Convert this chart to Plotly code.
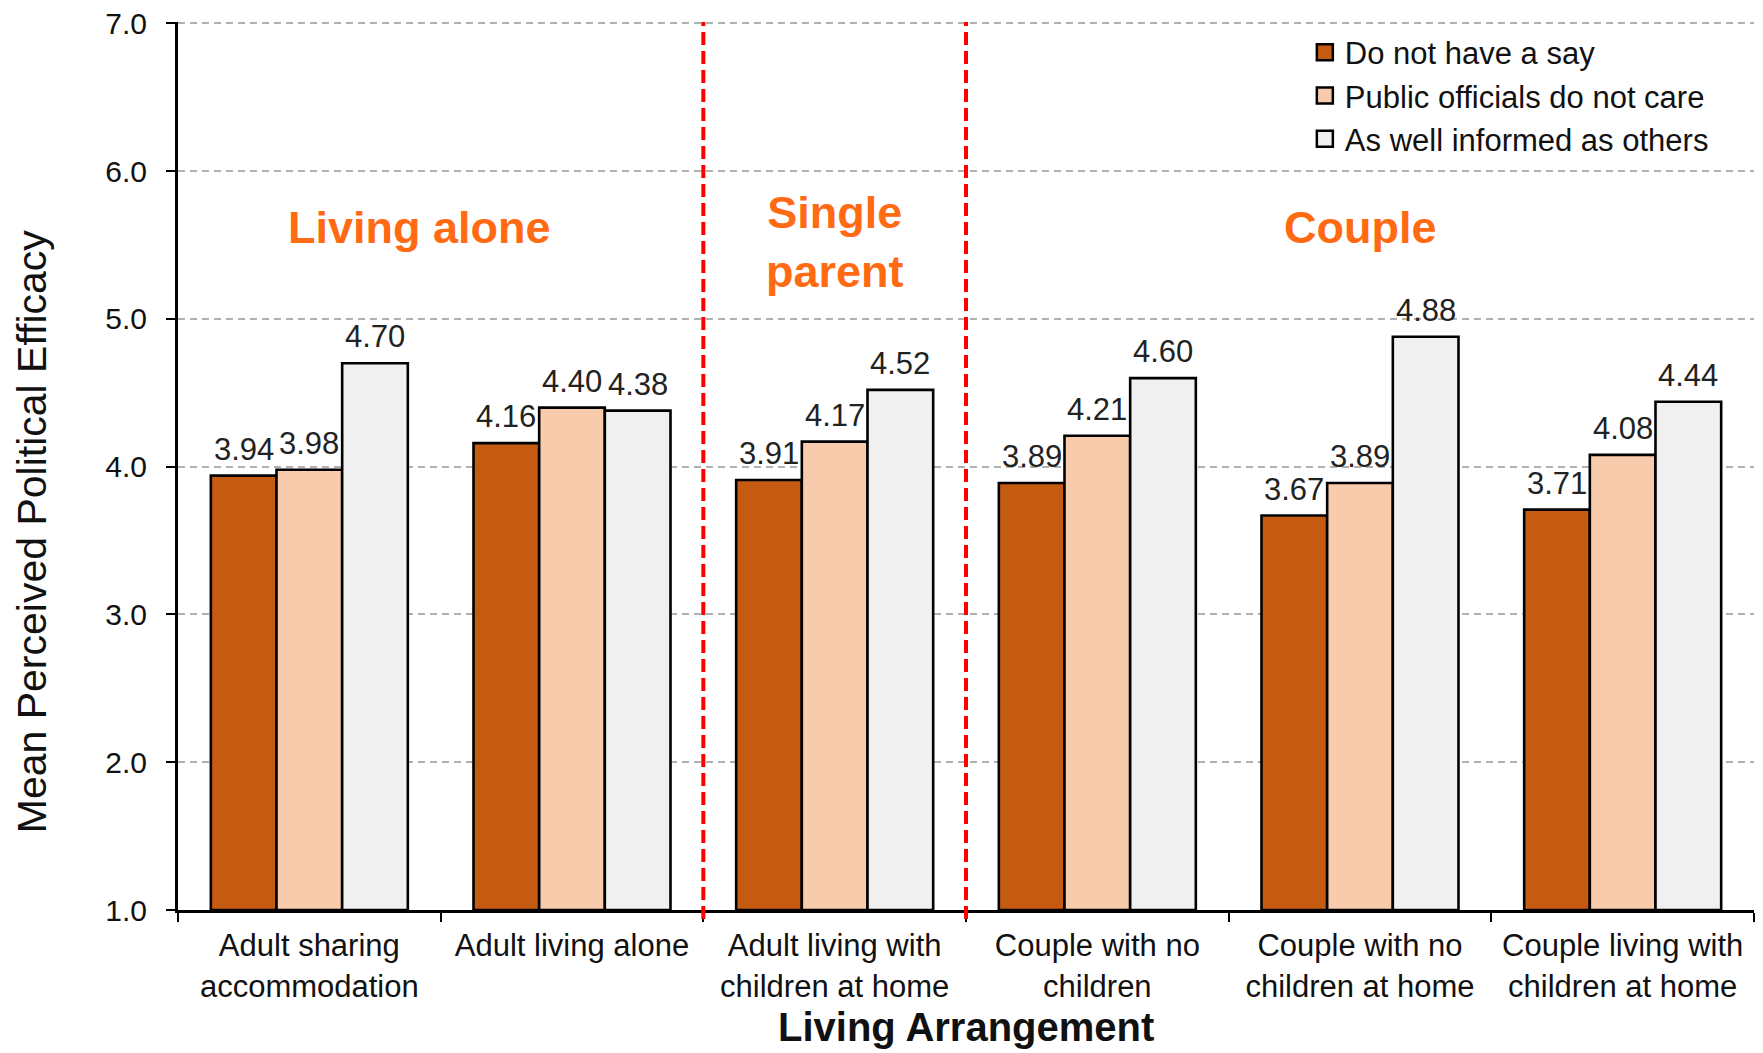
import plotly.graph_objects as go

categories = ["Adult sharing<br>accommodation", "Adult living alone",
              "Adult living with<br>children at home", "Couple with no<br>children",
              "Couple with no<br>children at home", "Couple living with<br>children at home"]
series_names = ["Do not have a say", "Public officials do not care", "As well informed as others"]
no_say = [3.94, 4.16, 3.91, 3.89, 3.67, 3.71]
not_care = [3.98, 4.40, 4.17, 4.21, 3.89, 4.08]
well_informed = [4.70, 4.38, 4.52, 4.60, 4.88, 4.44]
colors = ["#C55A11", "#F8CBAD", "#F0F0F0"]
y_ticks = [1.0, 2.0, 3.0, 4.0, 5.0, 6.0, 7.0]
group_labels = ["Living alone", "Single<br>parent", "Couple"]
group_label_x = [0.42, 2.0, 4.0]
group_label_y = [5.62, 5.52, 5.62]
divider_x = [1.5, 2.5]
y_title = "Mean Perceived Political Efficacy"
x_title = "Living Arrangement"

FONT = "Arial, Liberation Sans, sans-serif"
BARGAP = 0.25
series_vals = [no_say, not_care, well_informed]
n_series = len(series_vals)
bar_w = (1 - BARGAP) / n_series

fig = go.Figure()
for name, vals, col in zip(series_names, series_vals, colors):
    fig.add_trace(go.Bar(
        x=categories, y=[v - 1 for v in vals], base=1, name=name,
        marker=dict(color=col, line=dict(color="black", width=2.6)),
        showlegend=False,
        hovertemplate="%{x}: %{customdata:.2f}<extra></extra>", customdata=vals,
    ))
    # legend entry with larger square swatch
    fig.add_trace(go.Scatter(
        x=[None], y=[None], mode="markers", name=name,
        marker=dict(symbol="square", size=16, color=col, line=dict(color="black", width=2.5)),
        showlegend=True,
    ))

# value labels above bars
for i, vals in enumerate(series_vals):
    for j, v in enumerate(vals):
        fig.add_annotation(x=j + (i - (n_series - 1) / 2) * bar_w, y=v, xref="x", yref="y",
                           text=f"{v:.2f}", showarrow=False, yanchor="bottom", yshift=7,
                           font=dict(size=31, color="#222222", family=FONT))

for gx, gy, gl in zip(group_label_x, group_label_y, group_labels):
    fig.add_annotation(x=gx, y=gy, xref="x", yref="y",
                       text=f"<b>{gl}</b>", showarrow=False,
                       font=dict(size=45, color="#FF6A13", family=FONT))

for dx in divider_x:
    fig.add_shape(type="line", xref="x", yref="paper", x0=dx, x1=dx, y0=-0.01, y1=1,
                  line=dict(color="#FF0000", width=4, dash="13px,6px"))

# axis titles (placed like the reference)
fig.add_annotation(x=-0.093, y=0.427, xref="paper", yref="paper", text=y_title,
                   textangle=-90, showarrow=False, xanchor="center", yanchor="middle",
                   font=dict(size=41, family=FONT, color="#111111"))
fig.add_annotation(x=0.5, y=-0.132, xref="paper", yref="paper", text=f"<b>{x_title}</b>",
                   showarrow=False, xanchor="center", yanchor="middle",
                   font=dict(size=40, family=FONT, color="#111111"))

fig.update_layout(
    width=1755, height=1045,
    margin=dict(l=170, r=9, t=14, b=143, autoexpand=False),
    paper_bgcolor="white", plot_bgcolor="white",
    barmode="group", bargap=BARGAP, bargroupgap=0,
    font=dict(family=FONT, color="#111111"),
    showlegend=True,
    legend=dict(x=0.715, y=0.996, xanchor="left", yanchor="top",
                font=dict(size=31, family=FONT, color="#111111"),
                bgcolor="rgba(0,0,0,0)", itemwidth=30, tracegroupgap=0),
)
fig.update_xaxes(
    type="category", tickson="boundaries", ticks="outside", ticklen=9, tickwidth=2,
    tickcolor="black", showline=True, linecolor="black", linewidth=3,
    ticklabelstandoff=6, automargin=False,
    tickfont=dict(size=31, family=FONT, color="#111111"),
)
fig.update_yaxes(
    range=[1, 7.01], tickmode="array", tickvals=y_ticks, ticktext=[f"{t:.1f}" for t in y_ticks],
    ticks="outside", ticklen=9, tickwidth=2, ticklabeloverflow="allow",
    tickcolor="black", showline=True, linecolor="black", linewidth=3,
    showgrid=True, gridcolor="#B0B0B0", gridwidth=1.5, griddash="7px,5px",
    ticklabelstandoff=13, automargin=False,
    tickfont=dict(size=30, family=FONT, color="#111111"),
    zeroline=False,
)

fig.write_html("out.html")
